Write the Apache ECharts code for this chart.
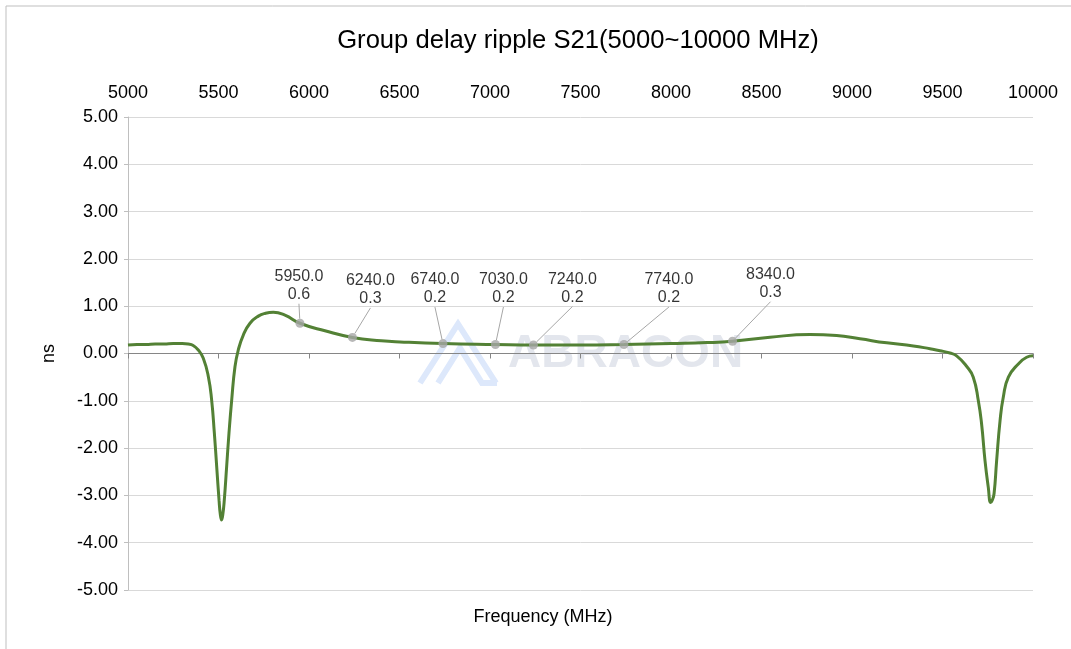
<!DOCTYPE html>
<html>
<head>
<meta charset="utf-8">
<script src="https://cdn.jsdelivr.net/npm/echarts@6/dist/echarts.min.js"></script>
<style>
  html, body { margin: 0; padding: 0; background: #fff; }
  #root { width: 1071px; height: 649px; }
</style>
</head>
<body>
<div id="root"></div>
<script>
// group delay curve
const freqMHz = [
  5000, 5050, 5100, 5150, 5200, 5250, 5300, 5333, 5360, 5389,
  5416, 5444, 5462, 5477, 5490, 5503, 5510, 5517, 5524, 5532,
  5545, 5558, 5573, 5591, 5609, 5637, 5674, 5720, 5760, 5803,
  5867, 5950, 6088, 6240, 6400, 6503, 6740, 7030, 7240, 7500,
  7740, 8000, 8200, 8340, 8547, 8768, 8915, 9044, 9192, 9339,
  9431, 9486, 9541, 9578, 9633, 9670, 9698, 9716, 9735, 9753,
  9766, 9775, 9785, 9799, 9818, 9836, 9864, 9919, 9965, 10000
];
const delayNs = [
  0.18, 0.19, 0.19, 0.20, 0.20, 0.21, 0.21, 0.20, 0.17, 0.07,
  -0.10, -0.49, -0.98, -1.68, -2.39, -3.10, -3.40, -3.52, -3.40, -3.10,
  -2.39, -1.68, -0.98, -0.28, 0.07, 0.39, 0.64, 0.79, 0.85, 0.87,
  0.81, 0.64, 0.48, 0.34, 0.27, 0.245, 0.21, 0.19, 0.18, 0.18,
  0.19, 0.21, 0.23, 0.26, 0.345, 0.40, 0.38, 0.31, 0.225, 0.16,
  0.10, 0.06, 0.01, -0.05, -0.27, -0.50, -1.00, -1.49, -2.27, -2.83,
  -3.15, -3.10, -2.96, -2.27, -1.42, -0.92, -0.50, -0.22, -0.08, -0.05
];

// labelled markers
const markerFreqs = [5950, 6240, 6740, 7030, 7240, 7740, 8340];
const markerNs = [0.64, 0.34, 0.21, 0.19, 0.18, 0.19, 0.26];

// label shift from the default 'top' spot, pixels
const labelShift = [[-1, -10], [18, -20], [-8, -27], [8, -28], [39, -29], [45, -28], [38, -30]];

const FONT = '"Liberation Sans", Arial, sans-serif';

const chart = echarts.init(document.getElementById('root'));

const curve = freqMHz.map((f, i) => [f, delayNs[i]]);
const markers = markerFreqs.map((f, i) => [f, markerNs[i]]);

const option = {
  animation: false,
  textStyle: { fontFamily: FONT },
  grid: { left: 128, right: 38, top: 117, bottom: 59 },
  graphic: [
    // chart frame
    { type: 'rect', shape: { x: 6, y: 6, width: 1100, height: 700 },
      style: { fill: 'none', stroke: '#bfbfbf', lineWidth: 1 }, silent: true },
    { type: 'text', x: 578, y: 41,
      style: { text: 'Group delay ripple S21(5000~10000 MHz)', font: '25.6px ' + FONT,
               fill: '#000', align: 'center', verticalAlign: 'middle' } },
    { type: 'text', x: 543, y: 617,
      style: { text: 'Frequency (MHz)', font: '18px ' + FONT,
               fill: '#000', align: 'center', verticalAlign: 'middle' } },
    // watermark
    { type: 'polyline', z: -1, silent: true,
      shape: { points: [[420, 383], [458, 324], [496, 383]] },
      style: { stroke: '#dde8fb', lineWidth: 6, fill: 'none' } },
    { type: 'polyline', z: -1, silent: true,
      shape: { points: [[438, 383], [460, 348], [482, 383], [497, 383]] },
      style: { stroke: '#dde8fb', lineWidth: 6, fill: 'none' } },
    { type: 'text', x: 508, y: 354, z: -1, silent: true,
      style: { text: 'ABRACON', font: 'bold 46px ' + FONT, fill: '#e3e6ed',
               align: 'left', verticalAlign: 'middle' } }
  ],
  xAxis: [{
    type: 'value',
    position: 'top',
    min: 5000,
    max: 10000,
    interval: 500,
    axisLine: { show: false, onZero: false },
    axisTick: { show: false },
    splitLine: { show: false },
    axisLabel: { fontSize: 18, color: '#000', margin: 15, formatter: v => String(v) }
  }, {
    type: 'value',
    position: 'bottom',
    min: 5000,
    max: 10000,
    interval: 500,
    axisLine: { show: true, onZero: true, lineStyle: { color: '#868686', width: 1 } },
    axisTick: { show: true, length: 5, lineStyle: { color: '#868686' } },
    splitLine: { show: false },
    axisLabel: { show: false }
  }],
  yAxis: {
    type: 'value',
    min: -5,
    max: 5,
    interval: 1,
    name: 'ns',
    nameLocation: 'middle',
    nameRotate: 90,
    nameGap: 70,
    nameTextStyle: { fontSize: 18, color: '#000' },
    axisLine: { show: true, onZero: false, lineStyle: { color: '#bfbfbf' } },
    axisTick: { show: true, length: 4, lineStyle: { color: '#bfbfbf' } },
    splitLine: { lineStyle: { color: '#d9d9d9', width: 1 } },
    axisLabel: { fontSize: 18, color: '#000', margin: 10, formatter: v => v.toFixed(2) }
  },
  series: [{
    type: 'line',
    name: 'S21',
    data: curve,
    showSymbol: false,
    smooth: 0.5,
    lineStyle: { color: '#538135', width: 3 },
    z: 2
  }, {
    type: 'scatter',
    data: markers,
    symbolSize: 9,
    itemStyle: { color: '#a6a6a6' },
    z: 3,
    label: {
      show: true,
      position: 'top',
      fontSize: 16,
      lineHeight: 18,
      color: '#000',
      align: 'center',
      formatter: p => p.value[0].toFixed(1) + '\n' + p.value[1].toFixed(1)
    },
    labelLine: { show: true, lineStyle: { color: '#a6a6a6', width: 1 } },
    labelLayout: p => ({ dx: labelShift[p.dataIndex][0], dy: labelShift[p.dataIndex][1] })
  }]
};

chart.setOption(option);

window.onresize = () => chart.resize();
</script>
</body>
</html>
